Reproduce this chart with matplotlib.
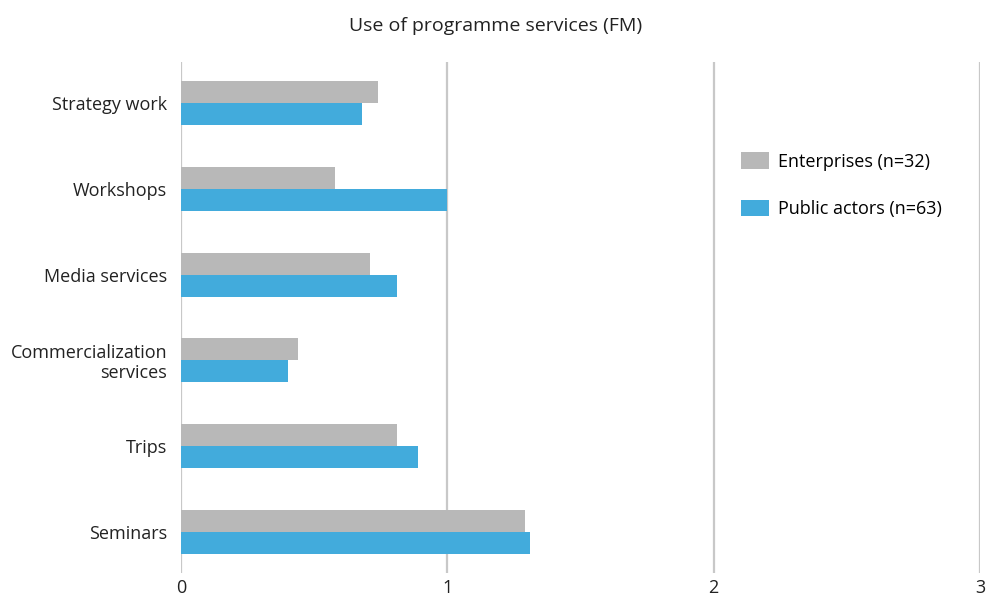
import matplotlib.pyplot as plt
import numpy as np

plt.rcParams['font.family'] = ['Open Sans', 'DejaVu Sans']

categories = ["Strategy work", "Workshops", "Media services",
              "Commercialization\nservices", "Trips", "Seminars"]
enterprises = [0.74, 0.58, 0.71, 0.44, 0.81, 1.29]
public_actors = [0.68, 1.00, 0.81, 0.40, 0.89, 1.31]
series_labels = ["Enterprises (n=32)", "Public actors (n=63)"]
xticks = [0, 1, 2, 3]

fig = plt.figure(figsize=(9.87, 5.97), dpi=100)
ax = fig.add_axes([0.1834, 0.0402, 0.8095, 0.8559])

y = np.arange(len(categories))
h = 0.256
ax.barh(y - h/2, enterprises, height=h, color='#b8b8b8', label=series_labels[0], zorder=3)
ax.barh(y + h/2, public_actors, height=h, color='#42abdc', label=series_labels[1], zorder=3)

ax.set_ylim(len(categories) - 0.52, -0.48)
ax.set_xlim(0, 3.0)
ax.set_yticks(y)
ax.set_yticklabels(categories, fontsize=13, color='#222222', linespacing=1.15)
ax.set_xticks(xticks)
ax.set_xticklabels([str(t) for t in xticks], fontsize=13, color='#222222')
ax.tick_params(length=0)
ax.tick_params(axis='x', pad=4)
ax.tick_params(axis='y', pad=10)
for s in ax.spines.values():
    s.set_visible(False)
for t in xticks:
    ax.axvline(t, color='#c8c8c8', lw=1.6, zorder=1)

fig.text(0.502, 0.957, "Use of programme services (FM)", ha='center', va='center',
         fontsize=14, color='#222222')

ax.legend(loc='upper left', bbox_to_anchor=(0.68, 0.855), frameon=False, fontsize=13,
          handlelength=1.6, handleheight=1.0, labelspacing=1.6, handletextpad=0.5)

fig.savefig('out.png', dpi=100)
